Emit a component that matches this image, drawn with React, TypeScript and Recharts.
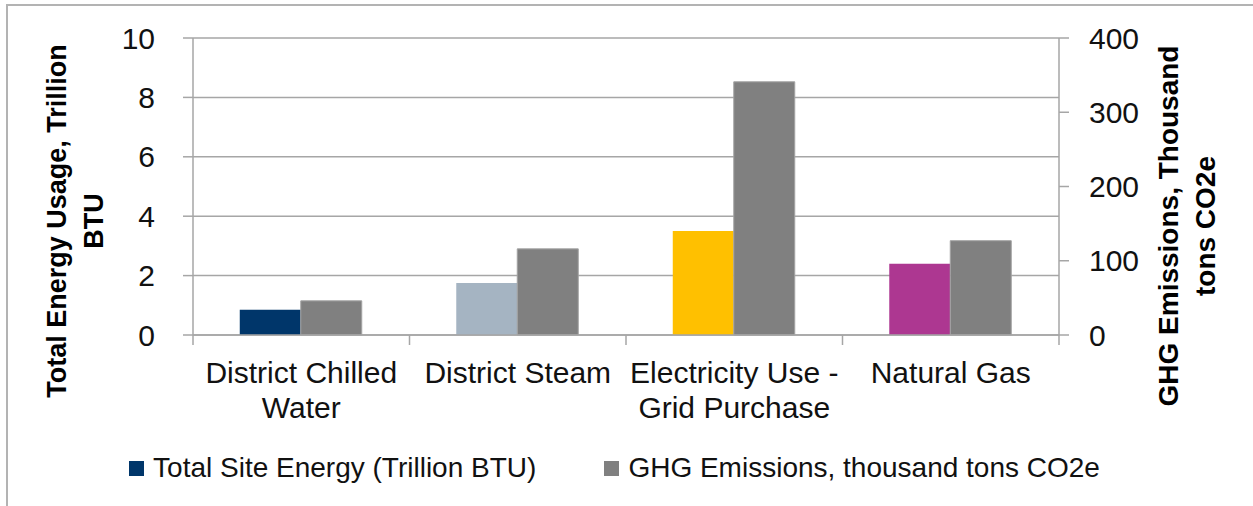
import React from 'react'
import {
  BarChart, Bar, XAxis, YAxis, CartesianGrid, Legend, Cell,
} from 'recharts'

// ── data ──────────────────────────────────────────────────────────────────────

const CATEGORIES = ['District Chilled Water', 'District Steam', 'Electricity Use - Grid Purchase', 'Natural Gas']
const ENERGY = [0.85, 1.75, 3.5, 2.4]        // Trillion BTU (left axis)
const GHG = [46, 116, 341, 127]              // thousand tons CO2e (right axis)
const ENERGY_COLORS = ['#00366a', '#a5b4c2', '#ffc000', '#ad3791']
const LEFT_TICKS = [0, 2, 4, 6, 8, 10]
const RIGHT_TICKS = [0, 100, 200, 300, 400]

const data = CATEGORIES.map((name, i) => ({ name, energy: ENERGY[i], ghg: GHG[i] }))

// ── look ──────────────────────────────────────────────────────────────────────

const W = 1253
const H = 506
const LEFT_W = 193
const RIGHT_W = 194
const BAND = (W - LEFT_W - RIGHT_W) / CATEGORIES.length
const FONT = '"Liberation Sans", Arial, sans-serif'
const FS = 30
const LEGEND_FS = 28
const LINE = '#a6a6a6'
const GREY = '#808080'

function wrap(label: string, max = 18) {
  const lines: string[] = []
  let cur = ''
  for (const w of label.split(' ')) {
    const next = cur ? cur + ' ' + w : w
    if (next.length > max && cur) {
      lines.push(cur)
      cur = w
    } else cur = next
  }
  if (cur) lines.push(cur)
  return lines
}

function CategoryTick(props: any) {
  const { x, y, payload, index } = props
  const lines = wrap(String(payload.value))
  const last = index === CATEGORIES.length - 1
  return (
    <g>
      <line x1={x - BAND / 2} x2={x - BAND / 2} y1={y} y2={y + 10} stroke={LINE} strokeWidth={1.5} />
      {last && <line x1={x + BAND / 2} x2={x + BAND / 2} y1={y} y2={y + 10} stroke={LINE} strokeWidth={1.5} />}
      <text textAnchor="middle" fontFamily={FONT} fontSize={FS} fill="#111">
        {lines.map((l, i) => (
          <tspan key={i} x={x} y={y + 48 + i * 35}>{l}</tspan>
        ))}
      </text>
    </g>
  )
}

function AxisTitle({ cx, cy, lines, size }: { cx: number; cy: number; lines: string[]; size: number }) {
  return (
    <text
      x={cx}
      y={cy}
      transform={`rotate(-90, ${cx}, ${cy})`}
      textAnchor="middle"
      fontFamily={FONT}
      fontWeight="bold"
      fontSize={size}
      fill="#000"
    >
      {lines.map((l, i) => (
        <tspan key={i} x={cx} y={cy + i * 37}>{l}</tspan>
      ))}
    </text>
  )
}

function LegendBox() {
  const items = [
    { label: 'Total Site Energy (Trillion BTU)', color: ENERGY_COLORS[0] },
    { label: 'GHG Emissions, thousand tons CO2e', color: GREY },
  ]
  return (
    <div
      style={{
        display: 'flex', justifyContent: 'center', alignItems: 'center', gap: 68,
        height: 40, fontFamily: FONT, fontSize: LEGEND_FS, color: '#111', paddingRight: 24,
      }}
    >
      {items.map(it => (
        <div key={it.label} style={{ display: 'flex', alignItems: 'center' }}>
          <div style={{ width: 15, height: 15, background: it.color, marginRight: 9 }} />
          <span>{it.label}</span>
        </div>
      ))}
    </div>
  )
}

export default function App() {
  return (
    <div style={{ position: 'absolute', left: 0, top: 0, width: W, height: H, overflow: 'hidden', background: '#fff' }}>
      <div
        style={{
          position: 'absolute', left: 6, top: 4, width: W + 20, height: H + 20,
          borderLeft: '2px solid #b3b3b3', borderTop: '2px solid #b3b3b3',
        }}
      />
      <div style={{ position: 'absolute', left: 0, top: 0 }}>
        <BarChart
          width={W}
          height={H}
          data={data}
          margin={{ top: 38, right: 0, bottom: 18, left: 0 }}
          barCategoryGap="21.6%"
          barGap={0}
        >
          <CartesianGrid yAxisId="left" vertical={false} stroke={LINE} strokeWidth={1.5} />
          <XAxis
            dataKey="name"
            height={113}
            interval={0}
            tickSize={0}
            tickMargin={0}
            tickLine={false}
            axisLine={{ stroke: LINE, strokeWidth: 1.5 }}
            tick={<CategoryTick />}
          />
          <YAxis
            yAxisId="left"
            width={LEFT_W}
            domain={[0, 10]}
            ticks={LEFT_TICKS}
            tickSize={10}
            tickMargin={28}
            axisLine={{ stroke: LINE, strokeWidth: 1.5 }}
            tickLine={{ stroke: LINE, strokeWidth: 1.5 }}
            tick={{ fontFamily: FONT, fontSize: FS, fill: '#111' }}
            label={{ content: () => <AxisTitle cx={66} cy={221} size={27} lines={['Total Energy Usage, Trillion', 'BTU']} /> }}
          />
          <YAxis
            yAxisId="right"
            orientation="right"
            width={RIGHT_W}
            domain={[0, 400]}
            ticks={RIGHT_TICKS}
            tickSize={10}
            tickMargin={20}
            axisLine={{ stroke: LINE, strokeWidth: 1.5 }}
            tickLine={{ stroke: LINE, strokeWidth: 1.5 }}
            tick={{ fontFamily: FONT, fontSize: FS, fill: '#111' }}
            label={{ content: () => <AxisTitle cx={1178} cy={226} size={28} lines={['GHG Emissions, Thousand', 'tons CO2e']} /> }}
          />
          <Legend verticalAlign="bottom" content={() => <LegendBox />} />
          <Bar yAxisId="left" dataKey="energy" name="Total Site Energy (Trillion BTU)" isAnimationActive={false}>
            {data.map((d, i) => (
              <Cell key={d.name} fill={ENERGY_COLORS[i]} />
            ))}
          </Bar>
          <Bar
            yAxisId="right"
            dataKey="ghg"
            name="GHG Emissions, thousand tons CO2e"
            fill={GREY}
            stroke="#a3a3a3"
            strokeWidth={1}
            isAnimationActive={false}
          />
        </BarChart>
      </div>
    </div>
  )
}
